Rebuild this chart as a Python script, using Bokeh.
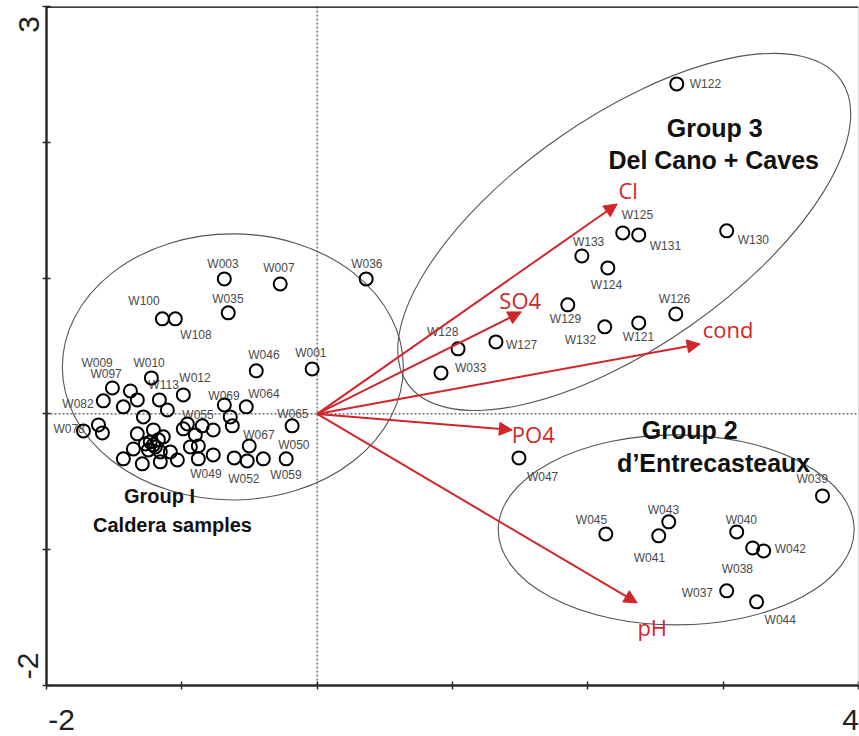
import math

from bokeh.core.properties import value
from bokeh.embed import file_html
from bokeh.models import Arrow, ColumnDataSource, FixedTicker, NormalHead, Span
from bokeh.plotting import figure
from bokeh.resources import INLINE

# ---- sample scores on the first two principal axes -------------------------
# Group I (Caldera samples)
g1_id = ["W003", "W007", "W035", "W100", "W108", "W046", "W001", "W010", "W012",
         "W009", "W097", "W082", "", "", "W113", "", "", "W069", "W064", "", "",
         "W065", "W055", "", "", "", "", "W078", "", "", "", "", "", "", "", "",
         "", "", "", "", "", "", "", "", "", "", "", "", "", "W049", "", "W052",
         "W059", "W050", "W067", "W036"]
g1_pc1 = [-0.686, -0.273, -0.657, -1.144, -1.048, -0.450, -0.037, -1.225, -0.989,
          -1.380, -1.513, -1.580, -1.329, -1.432, -1.166, -1.107, -1.284, -0.686,
          -0.524, -0.642, -0.627, -0.185, -0.989, -0.849, -0.768, -0.959, -0.900,
          -1.727, -1.616, -1.587, -1.329, -1.210, -1.137, -1.358, -1.432, -1.292,
          -1.233, -1.196, -1.247, -1.173, -1.269, -1.159, -1.210, -1.085, -1.033,
          -1.159, -0.937, -0.878, -0.878, -0.768, -0.613, -0.517, -0.398, -0.229,
          -0.502, 0.362]
g1_pc2 = [0.994, 0.957, 0.744, 0.700, 0.700, 0.317, 0.331, 0.265, 0.140,
          0.169, 0.191, 0.096, 0.103, 0.052, 0.103, 0.029, -0.022, 0.066,
          0.052, -0.022, -0.088, -0.088, -0.110, -0.088, -0.118, -0.074, -0.155,
          -0.125, -0.081, -0.140, -0.147, -0.118, -0.169, -0.258, -0.331, -0.368,
          -0.206, -0.243, -0.265, -0.191, -0.221, -0.280, -0.228, -0.280, -0.339,
          -0.353, -0.243, -0.331, -0.236, -0.302, -0.324, -0.346, -0.331, -0.331,
          -0.236, 0.994]

# Group 3 (Del Cano + Caves)
g3_id = ["W122", "W125", "W131", "W130", "W133", "W124", "W129", "W126", "W121",
         "W132", "W127", "W128", "W033"]
g3_pc1 = [2.657, 2.258, 2.376, 3.026, 1.956, 2.148, 1.852, 2.650, 2.376,
          2.125, 1.321, 1.041, 0.915]
g3_pc2 = [2.430, 1.333, 1.318, 1.348, 1.163, 1.075, 0.803, 0.736, 0.670,
          0.641, 0.530, 0.479, 0.302]

# Group 2 (d'Entrecasteaux)
g2_id = ["W047", "W039", "W045", "W043", "W041", "W040", "W038", "W042", "W037", "W044"]
g2_pc1 = [1.491, 3.734, 2.133, 2.598, 2.524, 3.100, 3.218, 3.299, 3.026, 3.247]
g2_pc2 = [-0.324, -0.604, -0.884, -0.795, -0.898, -0.869, -0.987, -1.009, -1.303, -1.384]

# ---- environmental variable loadings (biplot arrows) -----------------------
var_name = ["Cl", "SO4", "cond", "PO4", "pH"]
var_pc1 = [2.217, 1.508, 2.830, 1.442, 2.365]
var_pc2 = [1.546, 0.751, 0.515, -0.118, -1.392]

# ---- group envelopes --------------------------------------------------------
grp_cx = [-0.623, 2.269, 2.653]
grp_cy = [0.346, 1.340, -0.854]
grp_w = [2.52, 3.91, 2.63]
grp_h = [1.96, 1.69, 1.40]
grp_angle_deg = [0.0, 35.0, 0.0]

# ---- axes: limits, tick marks and the two end labels ------------------------
x_lo, x_hi = -2, 4
y_lo, y_hi = -2, 3
x_tick_marks = [-2, -1, 0, 1, 2, 3, 4]
y_tick_marks = [-2, -1, 0, 1, 2, 3]
# end labels sit slightly inside the axis ends
x_end_label_at = {-1.889: str(x_lo), 3.941: str(x_hi)}
y_end_label_at = {2.93: str(y_hi), -1.757: str(y_lo)}

# label placement in pixels relative to each sample (dx, dy; dy downward)
label_offset = {
    "W003": (-17, -15), "W007": (-17, -16), "W035": (-16, -14), "W100": (-34, -18),
    "W108": (5, 16), "W046": (-8, -16), "W001": (-17, -16), "W010": (-18, -15),
    "W012": (-4, -17), "W009": (-49, -28), "W097": (-22, -14), "W082": (-41, 3),
    "W113": (-11, -15), "W069": (-16, -9), "W064": (2, -13), "W065": (-15, -12),
    "W055": (-1, -14), "W078": (-30, -2), "W049": (-23, 19), "W052": (-19, 18),
    "W059": (7, 16), "W050": (-8, -14), "W067": (-6, -11), "W036": (-15, -15),
    "W122": (13, 0), "W125": (-1, -18), "W131": (11, 11), "W130": (11, 9),
    "W133": (-9, -14), "W124": (-17, 17), "W129": (-18, 14), "W126": (-17, -15),
    "W121": (-16, 14), "W132": (-40, 13), "W127": (10, 3), "W128": (-31, -17),
    "W033": (14, -5),
    "W047": (8, 19), "W039": (-26, -17), "W045": (-30, -14), "W043": (-21, -12),
    "W041": (-25, 22), "W040": (-11, -12), "W038": (-31, 21), "W042": (11, -2),
    "W037": (-45, 2), "W044": (8, 18),
}
# variable name placement relative to the arrow tip (dx, dy)
var_offset = {"Cl": (11, -14), "SO4": (-1, -12), "cond": (28, -15),
              "PO4": (21, 4), "pH": (15, 24)}

RED = "#d0262b"
SITE_FONT = value("Liberation Sans")
TITLE_FONT = value("Liberation Sans")
RED_FONT = value("Open Sans")

p = figure(width=859, height=736, x_range=(x_lo, x_hi), y_range=(y_lo, y_hi),
           output_backend="svg", toolbar_location=None,
           min_border_left=46, min_border_right=1, min_border_top=6, min_border_bottom=51)
p.grid.visible = False
p.outline_line_color = None
p.background_fill_color = "white"
p.border_fill_color = "white"

# major ticks carry only the end labels; the tick marks themselves are minor ticks
for ax, marks, labels in ((p.xaxis[0], x_tick_marks, x_end_label_at),
                          (p.yaxis[0], y_tick_marks, y_end_label_at)):
    ax.ticker = FixedTicker(ticks=list(labels), minor_ticks=marks)
    ax.major_label_overrides = labels
    ax.axis_line_color = "#2a2a2a"
    ax.axis_line_width = 2.5
    ax.major_tick_line_color = None
    ax.major_tick_in = 0
    ax.major_tick_out = 0
    ax.minor_tick_line_color = "#2a2a2a"
    ax.minor_tick_line_width = 1.5
    ax.minor_tick_in = 4
    ax.minor_tick_out = 4
    ax.major_label_text_font = "Liberation Sans"
    ax.major_label_text_font_size = "30px"
    ax.major_label_text_color = "#222222"
p.xaxis[0].major_label_standoff = 20
p.yaxis[0].major_label_standoff = 14
p.yaxis[0].major_label_orientation = math.pi / 2

# frame edges and the zero lines
p.add_layout(Span(location=y_hi, dimension="width", line_color="black", line_width=2.5))
p.add_layout(Span(location=x_hi, dimension="height", line_color="#b5b5b5", line_width=1))
p.add_layout(Span(location=0, dimension="height", line_color="#222222", line_width=1,
                  line_dash="2 2", level="underlay"))
p.add_layout(Span(location=0, dimension="width", line_color="#222222", line_width=1,
                  line_dash="2 2", level="underlay"))

# group envelopes
p.ellipse(x=grp_cx, y=grp_cy, width=grp_w, height=grp_h,
          angle=[math.radians(a) for a in grp_angle_deg],
          fill_color=None, line_color="#555555", line_width=1.1)

# sample labels
all_id = g1_id + g3_id + g2_id
all_pc1 = g1_pc1 + g3_pc1 + g2_pc1
all_pc2 = g1_pc2 + g3_pc2 + g2_pc2
lab = [(s, x, y) for s, x, y in zip(all_id, all_pc1, all_pc2) if s]
lab_src = ColumnDataSource(dict(
    x=[t[1] for t in lab], y=[t[2] for t in lab], text=[t[0] for t in lab],
    dx=[label_offset[t[0]][0] for t in lab], dy=[label_offset[t[0]][1] for t in lab]))
p.text(x="x", y="y", text="text", x_offset="dx", y_offset="dy", source=lab_src,
       text_font=SITE_FONT, text_font_size="12px", text_color="#4a4a4a",
       text_align="left", text_baseline="middle")

# sample points
p.scatter(x=all_pc1, y=all_pc2, marker="circle", size=13, fill_color=None,
          line_color="black", line_width=2)

# biplot arrows
for name, vx, vy in zip(var_name, var_pc1, var_pc2):
    p.add_layout(Arrow(x_start=0, y_start=0, x_end=vx, y_end=vy,
                       line_color=RED, line_width=2,
                       end=NormalHead(size=13, fill_color=RED, line_color=RED, line_width=1)))
var_src = ColumnDataSource(dict(x=var_pc1, y=var_pc2, text=var_name,
                                dx=[var_offset[n][0] for n in var_name],
                                dy=[var_offset[n][1] for n in var_name]))
p.text(x="x", y="y", text="text", x_offset="dx", y_offset="dy", source=var_src,
       text_font=RED_FONT, text_font_size="22px", text_color=RED,
       text_align="center", text_baseline="middle")

# group titles
title_text = ["Group I", "Caldera samples", "Group 3", "Del Cano + Caves",
              "Group 2", "d\u2019Entrecasteaux"]
title_x = [-1.165, -1.069, 2.937, 2.930, 2.753, 2.930]
title_y = [-0.604, -0.817, 2.106, 1.870, -0.118, -0.361]
title_size = ["20px", "20px", "25px", "25px", "25px", "25px"]
p.text(x=title_x, y=title_y, text=title_text, text_font=TITLE_FONT,
       text_font_size=title_size, text_font_style="bold", text_color="#111111",
       text_align="center", text_baseline="middle")

open("out.html", "w").write(file_html(p, INLINE))
